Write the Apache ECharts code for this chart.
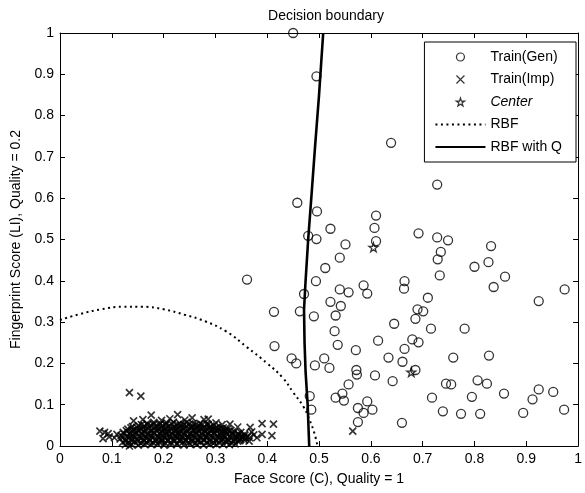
<!DOCTYPE html>
<html lang="en">
<head>
    <meta charset="UTF-8">
    <title>Decision boundary</title>
    <script src="https://cdn.jsdelivr.net/npm/echarts@6/dist/echarts.min.js"></script>
</head>
<body style="margin:0;background:#fff;">
<div id="chart" style="width:585px;height:493px;"></div>
<script type="text/javascript">

    // genuine training scores (face, fingerprint)
    var genuine = [
        [0.450,1.000],[0.495,0.895],[0.639,0.734],[0.728,0.633],[0.458,0.589],[0.496,0.568],
        [0.610,0.558],[0.522,0.526],[0.607,0.528],[0.479,0.509],[0.495,0.501],[0.551,0.488],
        [0.610,0.496],[0.692,0.515],[0.728,0.505],[0.749,0.498],[0.832,0.484],[0.735,0.470],
        [0.729,0.452],[0.540,0.456],[0.827,0.445],[0.800,0.434],[0.512,0.431],[0.733,0.413],
        [0.859,0.410],[0.494,0.399],[0.665,0.399],[0.586,0.389],[0.664,0.381],[0.837,0.385],
        [0.540,0.379],[0.557,0.372],[0.593,0.369],[0.974,0.379],[0.471,0.368],[0.710,0.359],
        [0.924,0.351],[0.522,0.349],[0.542,0.339],[0.463,0.326],[0.690,0.331],[0.701,0.326],
        [0.532,0.316],[0.686,0.308],[0.490,0.314],[0.645,0.296],[0.716,0.284],[0.781,0.284],
        [0.530,0.278],[0.614,0.255],[0.680,0.258],[0.692,0.251],[0.536,0.245],[0.665,0.235],
        [0.571,0.232],[0.634,0.214],[0.759,0.214],[0.828,0.219],[0.510,0.212],[0.447,0.212],
        [0.661,0.204],[0.456,0.200],[0.492,0.195],[0.520,0.189],[0.572,0.184],[0.573,0.173],
        [0.686,0.184],[0.608,0.171],[0.642,0.157],[0.557,0.149],[0.745,0.151],[0.755,0.149],
        [0.806,0.159],[0.824,0.151],[0.924,0.137],[0.952,0.131],[0.545,0.127],[0.532,0.117],
        [0.548,0.110],[0.482,0.121],[0.718,0.117],[0.795,0.119],[0.857,0.127],[0.912,0.113],
        [0.593,0.108],[0.575,0.092],[0.603,0.088],[0.586,0.080],[0.485,0.088],[0.739,0.084],
        [0.774,0.078],[0.811,0.078],[0.894,0.080],[0.973,0.088],[0.575,0.058],[0.660,0.056],
        [0.361,0.403],[0.413,0.325],[0.414,0.242]
    ];

    // impostor training scores
    var impostor = [
        [0.126,0.003],[0.138,0.004],[0.151,0.002],[0.163,0.004],[0.176,0.003],[0.189,0.004],[0.201,0.002],
        [0.214,0.003],[0.226,0.004],[0.239,0.002],[0.251,0.004],[0.264,0.003],[0.277,0.002],[0.289,0.004],
        [0.302,0.003],[0.315,0.004],[0.327,0.003],[0.338,0.005],
        [0.121,0.009],[0.133,0.007],[0.144,0.010],[0.156,0.006],[0.167,0.009],[0.179,0.008],[0.191,0.010],
        [0.203,0.007],[0.214,0.009],[0.226,0.006],[0.238,0.010],[0.249,0.008],[0.261,0.007],[0.272,0.010],
        [0.284,0.008],[0.296,0.006],[0.307,0.009],[0.319,0.011],[0.331,0.008],[0.343,0.012],
        [0.127,0.012],[0.139,0.013],[0.150,0.011],[0.162,0.012],[0.173,0.013],[0.185,0.011],[0.196,0.012],
        [0.208,0.013],[0.220,0.011],[0.231,0.012],[0.243,0.013],[0.254,0.011],[0.266,0.012],[0.278,0.013],
        [0.289,0.011],[0.301,0.012],[0.312,0.013],[0.324,0.011],[0.336,0.012],[0.347,0.013],[0.356,0.014],
        [0.116,0.017],[0.127,0.015],[0.139,0.018],[0.150,0.016],[0.162,0.014],[0.173,0.017],[0.185,0.016],
        [0.197,0.018],[0.208,0.015],[0.220,0.017],[0.232,0.016],[0.243,0.014],[0.255,0.018],[0.266,0.016],
        [0.278,0.015],[0.290,0.017],[0.301,0.016],[0.313,0.018],[0.325,0.015],[0.337,0.017],[0.349,0.016],
        [0.358,0.019],
        [0.122,0.021],[0.133,0.020],[0.145,0.021],[0.157,0.019],[0.168,0.020],[0.180,0.021],[0.191,0.020],
        [0.203,0.019],[0.215,0.021],[0.226,0.020],[0.238,0.019],[0.249,0.021],[0.261,0.020],[0.272,0.019],
        [0.284,0.021],[0.296,0.020],[0.307,0.019],[0.319,0.021],[0.331,0.020],[0.342,0.019],[0.354,0.021],
        [0.366,0.020],
        [0.118,0.025],[0.129,0.023],[0.141,0.026],[0.153,0.024],[0.164,0.022],[0.176,0.025],[0.188,0.024],
        [0.199,0.026],[0.211,0.023],[0.223,0.025],[0.234,0.024],[0.246,0.022],[0.257,0.026],[0.269,0.024],
        [0.281,0.023],[0.292,0.025],[0.304,0.024],[0.316,0.026],[0.327,0.023],[0.339,0.025],[0.351,0.024],
        [0.362,0.022],[0.374,0.027],
        [0.124,0.029],[0.135,0.028],[0.147,0.029],[0.159,0.027],[0.170,0.028],[0.182,0.029],[0.194,0.028],
        [0.205,0.027],[0.217,0.029],[0.229,0.028],[0.240,0.027],[0.252,0.029],[0.263,0.028],[0.275,0.027],
        [0.287,0.029],[0.298,0.028],[0.310,0.027],[0.322,0.029],[0.333,0.028],[0.345,0.027],[0.357,0.026],
        [0.122,0.033],[0.134,0.031],[0.146,0.034],[0.157,0.032],[0.169,0.030],[0.181,0.033],[0.192,0.032],
        [0.204,0.034],[0.216,0.031],[0.227,0.033],[0.239,0.032],[0.251,0.030],[0.262,0.034],[0.274,0.032],
        [0.285,0.031],[0.297,0.033],[0.309,0.032],[0.320,0.034],[0.332,0.031],[0.344,0.030],[0.356,0.029],
        [0.128,0.037],[0.139,0.036],[0.151,0.037],[0.162,0.035],[0.174,0.036],[0.186,0.037],[0.197,0.036],
        [0.209,0.035],[0.221,0.037],[0.232,0.036],[0.244,0.035],[0.255,0.037],[0.267,0.036],[0.279,0.035],
        [0.290,0.037],[0.302,0.036],[0.313,0.035],[0.325,0.036],[0.337,0.034],[0.349,0.033],
        [0.131,0.041],[0.143,0.039],[0.155,0.042],[0.166,0.040],[0.178,0.038],[0.190,0.041],[0.201,0.040],
        [0.213,0.042],[0.225,0.039],[0.236,0.041],[0.248,0.040],[0.259,0.038],[0.271,0.042],[0.283,0.040],
        [0.294,0.039],[0.306,0.041],[0.318,0.038],[0.330,0.037],
        [0.137,0.044],[0.148,0.045],[0.160,0.044],[0.171,0.043],[0.183,0.045],[0.195,0.044],[0.206,0.043],
        [0.218,0.045],[0.229,0.044],[0.241,0.043],[0.253,0.045],[0.264,0.044],[0.276,0.043],[0.288,0.044],
        [0.299,0.042],[0.311,0.042],[0.323,0.041],
        [0.140,0.047],[0.152,0.049],[0.163,0.048],[0.175,0.050],[0.187,0.047],[0.198,0.049],[0.210,0.048],
        [0.222,0.046],[0.233,0.050],[0.245,0.048],[0.256,0.047],[0.268,0.049],[0.280,0.046],[0.291,0.048],
        [0.303,0.045],[0.315,0.044],
        [0.157,0.052],[0.169,0.051],[0.181,0.053],[0.192,0.052],[0.204,0.051],[0.216,0.053],[0.227,0.052],
        [0.239,0.051],[0.250,0.053],[0.262,0.052],[0.274,0.051],[0.286,0.052],[0.297,0.050],
        [0.168,0.055],[0.181,0.057],[0.194,0.054],[0.206,0.056],[0.219,0.058],[0.231,0.055],[0.244,0.057],
        [0.257,0.054],[0.270,0.055],[0.283,0.053],
        [0.134,0.129],[0.156,0.121],[0.134,0.000],[0.077,0.036],[0.086,0.033],[0.093,0.030],[0.083,0.018],
        [0.095,0.022],[0.105,0.020],[0.110,0.028],[0.142,0.061],[0.176,0.075],[0.160,0.064],[0.196,0.062],
        [0.212,0.066],[0.227,0.076],[0.241,0.063],[0.255,0.068],[0.278,0.064],[0.286,0.065],[0.301,0.056],
        [0.313,0.052],[0.328,0.053],[0.343,0.046],[0.367,0.045],[0.390,0.054],[0.412,0.053],[0.409,0.025],
        [0.390,0.028],[0.370,0.034],[0.380,0.020],[0.365,0.012],[0.565,0.036]
    ];

    var centers = [[0.605,0.481],[0.678,0.179],[0.225,0.030]];

    // decision boundaries
    var rbf = [
        [0,0.305],[0.04,0.320],[0.08,0.331],[0.12,0.337],[0.16,0.337],[0.20,0.331],[0.24,0.318],
        [0.28,0.302],[0.32,0.278],[0.36,0.240],[0.40,0.200],[0.43,0.165],[0.45,0.130],[0.47,0.095],
        [0.48,0.068],[0.49,0.035],[0.497,0.0]
    ];
    var rbfQ = [
        [0.508,1.0],[0.500,0.85],[0.492,0.72],[0.485,0.60],[0.479,0.50],[0.474,0.40],[0.471,0.33],
        [0.472,0.25],[0.474,0.18],[0.478,0.10],[0.481,0.0]
    ];

    var crossPath = 'path://M0,0L10,10M10,0L0,10';
    var starPath = 'path://M50,0L61,35L98,35L68,57L79,91L50,70L21,91L32,57L2,35L39,35Z';
    var font = '"Liberation Sans", Arial, sans-serif';
    var clear = 'rgba(0,0,0,0)';

    var myChart = echarts.init(document.getElementById('chart'));

    var axisCommon = {
        type: 'value', min: 0, max: 1, interval: 0.1,
        axisLine: {show: true, onZero: false, lineStyle: {color: '#000', width: 1}},
        axisTick: {show: true, inside: true, length: 5, lineStyle: {color: '#000'}},
        splitLine: {show: false}
    };

    var option = {
        animation: false,
        backgroundColor: '#fff',
        title: {
            text: 'Decision boundary',
            left: 321, top: 4, textAlign: 'center',
            textStyle: {fontFamily: font, fontSize: 14, fontWeight: 'normal', color: '#000'}
        },
        grid: {left: 60, right: 3, top: 33, bottom: 47},
        legend: {
            orient: 'vertical', right: 9, top: 42,
            padding: [8, 14, 8, 10],
            itemWidth: 50, itemHeight: 8, itemGap: 8.5,
            backgroundColor: '#fff', borderColor: '#000', borderWidth: 1,
            textStyle: {fontFamily: font, fontSize: 14, color: '#000', rich: {i: {fontStyle: 'italic', fontFamily: font, fontSize: 14}}},
            formatter: function (name) { return name === 'Center' ? '{i|Center}' : name; },
            data: [
                {name: 'Train(Gen)', itemStyle: {color: clear, borderColor: '#000', borderWidth: 1.2}},
                {name: 'Train(Imp)', itemStyle: {color: clear, borderColor: '#000', borderWidth: 1.2}},
                {name: 'Center', itemStyle: {color: clear, borderColor: '#000', borderWidth: 1.2}},
                {name: 'RBF', itemStyle: {color: clear, borderColor: clear, borderWidth: 0}},
                {name: 'RBF with Q', itemStyle: {color: clear, borderColor: clear, borderWidth: 0}}
            ]
        },
        xAxis: [
            Object.assign({}, axisCommon, {
                position: 'bottom',
                name: 'Face Score (C), Quality = 1', nameLocation: 'middle', nameGap: 26,
                nameTextStyle: {fontFamily: font, fontSize: 14, color: '#000'},
                axisLabel: {fontFamily: font, fontSize: 14, color: '#000', margin: 6}
            }),
            Object.assign({}, axisCommon, {position: 'top', axisLabel: {show: false}})
        ],
        yAxis: [
            Object.assign({}, axisCommon, {
                position: 'left',
                name: 'Fingerprint Score (LI), Quality = 0.2', nameLocation: 'middle', nameGap: 36,
                nameTextStyle: {fontFamily: font, fontSize: 14, color: '#000'},
                axisLabel: {fontFamily: font, fontSize: 14, color: '#000', margin: 6}
            }),
            Object.assign({}, axisCommon, {position: 'right', axisLabel: {show: false}})
        ],
        series: [
            {
                name: 'Train(Gen)', type: 'scatter', data: genuine,
                symbol: 'circle', symbolSize: 9,
                itemStyle: {color: clear, borderColor: '#000', borderWidth: 1.3}
            },
            {
                name: 'Train(Imp)', type: 'scatter', data: impostor,
                symbol: crossPath, symbolSize: 7,
                itemStyle: {color: clear, borderColor: '#000', borderWidth: 1.7}
            },
            {
                name: 'Center', type: 'scatter', data: centers,
                symbol: starPath, symbolSize: 9,
                itemStyle: {color: clear, borderColor: '#000', borderWidth: 1.3}
            },
            {
                name: 'RBF', type: 'line', data: rbf, smooth: true,
                symbol: 'none', itemStyle: {color: clear, borderColor: clear},
                lineStyle: {color: '#000', width: 2, type: [2, 3.5]}
            },
            {
                name: 'RBF with Q', type: 'line', data: rbfQ,
                symbol: 'none', itemStyle: {color: clear, borderColor: clear},
                lineStyle: {color: '#000', width: 2.6}
            }
        ]
    };

    myChart.setOption(option);
</script>
</body>
</html>
